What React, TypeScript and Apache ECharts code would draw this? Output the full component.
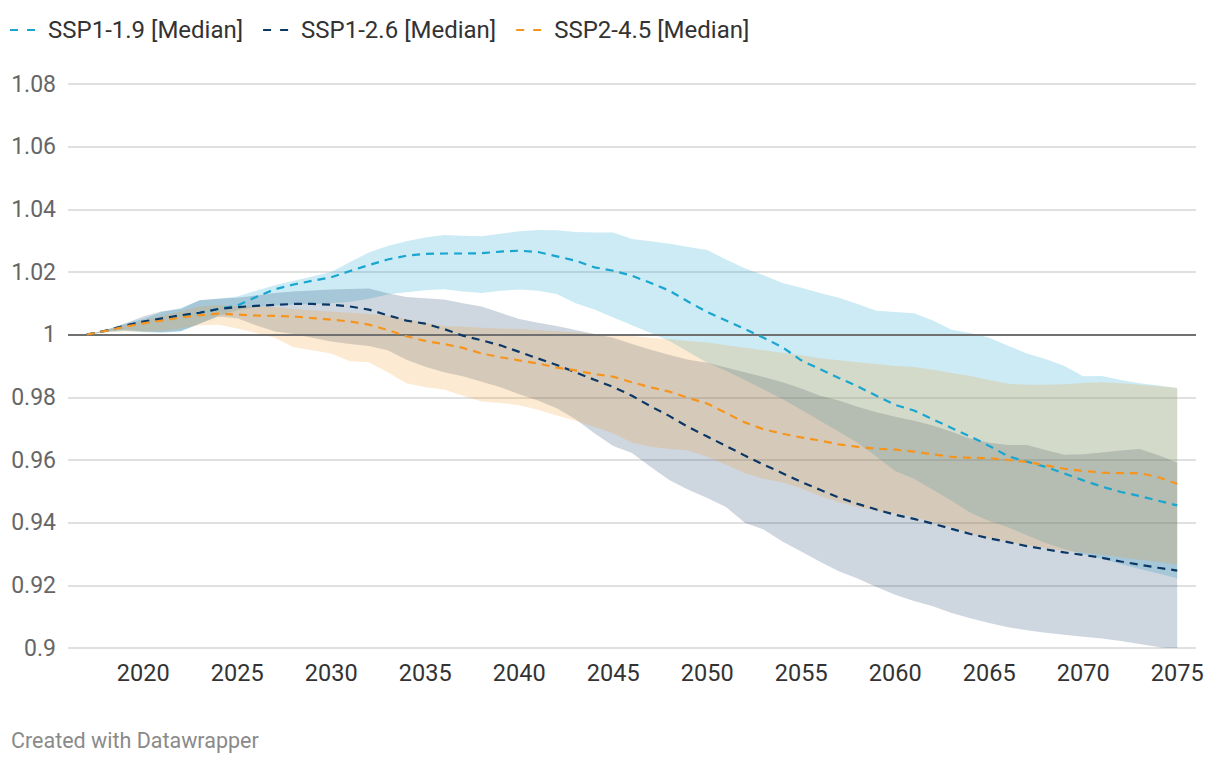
import React, { useEffect, useRef } from "react";
import * as echarts from "echarts";

const years = [
  2017, 2018, 2019, 2020, 2021, 2022, 2023, 2024, 2025, 2026,
  2027, 2028, 2029, 2030, 2031, 2032, 2033, 2034, 2035, 2036,
  2037, 2038, 2039, 2040, 2041, 2042, 2043, 2044, 2045, 2046,
  2047, 2048, 2049, 2050, 2051, 2052, 2053, 2054, 2055, 2056,
  2057, 2058, 2059, 2060, 2061, 2062, 2063, 2064, 2065, 2066,
  2067, 2068, 2069, 2070, 2071, 2072, 2073, 2074, 2075,
];

const xTickLabels = [2020, 2025, 2030, 2035, 2040, 2045, 2050, 2055, 2060, 2065, 2070, 2075];

// SSP1-1.9
const ssp119Median = [
  1.0, 1.0012, 1.0028, 1.004, 1.005, 1.006, 1.007, 1.0082, 1.0093, 1.012,
  1.0145, 1.016, 1.0172, 1.0183, 1.0203, 1.0222, 1.024, 1.0252, 1.0258, 1.0259,
  1.0259, 1.026, 1.0265, 1.0268, 1.0264, 1.025, 1.0236, 1.0215, 1.0204, 1.0188,
  1.0165, 1.014, 1.0105, 1.0072, 1.0045, 1.0018, 0.999, 0.996, 0.9918, 0.989,
  0.9862, 0.9835, 0.9805, 0.9776, 0.9758, 0.973, 0.9702, 0.9675, 0.9645, 0.9612,
  0.9595, 0.9578, 0.9557, 0.9535, 0.9515, 0.9498, 0.9485, 0.947, 0.9455,
];
const ssp119Upper = [
  1.0, 1.0015, 1.0035, 1.005, 1.0072, 1.0085, 1.011, 1.0115, 1.0122, 1.014,
  1.0158, 1.0172, 1.0186, 1.02, 1.0232, 1.0262, 1.0283, 1.0298, 1.031, 1.0318,
  1.0316, 1.0314, 1.0322, 1.033, 1.0334, 1.0333, 1.0328, 1.0326, 1.0326, 1.0305,
  1.0298, 1.029, 1.028, 1.027, 1.024, 1.0212, 1.019, 1.0165, 1.015, 1.0133,
  1.0118, 1.0098, 1.0076, 1.0072, 1.0068, 1.0045, 1.0016, 1.0005, 0.999, 0.9965,
  0.994, 0.9922, 0.99, 0.9867, 0.9868, 0.9855, 0.9845, 0.9838, 0.983,
];
const ssp119Lower = [
  1.0, 1.0008, 1.0012, 1.0008, 1.0006, 1.001, 1.0035, 1.006, 1.0078, 1.0088,
  1.0093, 1.0096, 1.0098, 1.01, 1.0105, 1.0115, 1.0128, 1.0135, 1.0142, 1.0145,
  1.0138, 1.0133, 1.014, 1.0144, 1.014, 1.013, 1.01, 1.008, 1.0055, 1.003,
  1.0005, 0.998, 0.9945, 0.991, 0.9885, 0.9855, 0.9825, 0.9795, 0.976, 0.9725,
  0.969, 0.9655, 0.961, 0.9565, 0.954, 0.9505, 0.947, 0.9432, 0.9405, 0.9385,
  0.936, 0.9335, 0.9315, 0.93, 0.9285, 0.9268, 0.9252, 0.9238, 0.9223,
];

// SSP1-2.6
const ssp126Median = [
  1.0, 1.0013, 1.0028, 1.0042, 1.0052, 1.0062, 1.007, 1.0082, 1.0088, 1.0092,
  1.0095, 1.0098, 1.0098, 1.0096, 1.009, 1.008, 1.0062, 1.0045, 1.0035, 1.0018,
  0.9997, 0.9982, 0.9966, 0.9945, 0.9924, 0.9903, 0.988, 0.9856, 0.9833, 0.9805,
  0.9771, 0.974, 0.9705, 0.9675, 0.9645, 0.9614, 0.9585, 0.9558, 0.953, 0.9505,
  0.948, 0.946, 0.9442, 0.9425, 0.9412, 0.9397, 0.938, 0.9364, 0.935, 0.9338,
  0.9325, 0.9315, 0.9305, 0.9297, 0.9288, 0.9276, 0.9266, 0.9256, 0.9247,
];
const ssp126Upper = [
  1.0, 1.0015, 1.0035, 1.0058, 1.0075, 1.0082, 1.011, 1.0115, 1.0118, 1.0125,
  1.0133, 1.0138, 1.0141, 1.0144, 1.0146, 1.0147, 1.0132, 1.012, 1.0116, 1.0112,
  1.01, 1.009, 1.007, 1.005, 1.0038, 1.0028, 1.0015, 1.0002, 0.999, 0.997,
  0.9952, 0.9935, 0.992, 0.991, 0.9895, 0.988, 0.9865, 0.9848, 0.9828, 0.9805,
  0.979, 0.977, 0.9752, 0.9738, 0.9725, 0.971, 0.969, 0.9668, 0.9655, 0.9648,
  0.9648, 0.9632, 0.9617, 0.9618, 0.9624, 0.963, 0.9635, 0.9615, 0.9592,
];
const ssp126Lower = [
  1.0, 1.001, 1.0015, 1.001, 1.0008, 1.0012, 1.0035, 1.0058, 1.0052, 1.003,
  1.001, 1.0002, 0.999, 0.9978, 0.997, 0.9964, 0.995, 0.992, 0.9898, 0.988,
  0.9867, 0.985, 0.9832, 0.981, 0.979, 0.9765, 0.973, 0.9685, 0.9645, 0.9622,
  0.9578, 0.9535, 0.9505, 0.9479, 0.945, 0.94, 0.9378, 0.934, 0.9308, 0.9275,
  0.9245, 0.9222, 0.9195, 0.917, 0.915, 0.9133, 0.9112, 0.9095, 0.908, 0.9066,
  0.9057, 0.9049, 0.9042, 0.9036, 0.903, 0.9022, 0.9013, 0.9003, 0.8995,
];

// SSP2-4.5
const ssp245Median = [
  1.0, 1.0012, 1.0025, 1.0036, 1.0045, 1.0055, 1.0062, 1.0067, 1.0064, 1.0061,
  1.006, 1.0058, 1.0053, 1.0048, 1.0042, 1.0032, 1.0015, 0.9995, 0.998, 0.997,
  0.9958, 0.994, 0.9928, 0.9918, 0.9908, 0.9895, 0.9886, 0.9874, 0.9866, 0.9848,
  0.9832, 0.9818, 0.9798, 0.978, 0.975, 0.972, 0.9698, 0.9684, 0.9672, 0.9662,
  0.965, 0.9642, 0.9636, 0.9633, 0.9627, 0.9618, 0.961, 0.9607, 0.9606, 0.96,
  0.9594, 0.9583, 0.9572, 0.9565, 0.956, 0.9558, 0.9558, 0.9545, 0.9524,
];
const ssp245Upper = [
  1.0, 1.0014, 1.003, 1.0045, 1.006, 1.0075, 1.009, 1.0095, 1.0092, 1.009,
  1.0088, 1.0082, 1.0078, 1.0074, 1.007, 1.0066, 1.006, 1.005, 1.0038, 1.0028,
  1.0025, 1.0022, 1.002, 1.0018, 1.0015, 1.0011, 1.0008, 1.0002, 1.0, 0.9996,
  0.999, 0.9985, 0.998, 0.9975, 0.9966, 0.9958, 0.995, 0.9942, 0.9934, 0.9925,
  0.9918, 0.9912, 0.9906, 0.99, 0.9897, 0.9888, 0.9878, 0.9868, 0.9855, 0.9843,
  0.984, 0.984, 0.9842, 0.9846, 0.9848, 0.9845, 0.984, 0.9835, 0.983,
];
const ssp245Lower = [
  1.0, 1.0008, 1.001, 1.001, 1.0012, 1.002, 1.003, 1.0032, 1.002, 1.0005,
  0.999, 0.996, 0.995, 0.994, 0.9915, 0.9912, 0.988, 0.9845, 0.9832, 0.9825,
  0.9805, 0.9787, 0.9782, 0.9775, 0.976, 0.9742, 0.9725, 0.9705, 0.9685, 0.9655,
  0.9642, 0.9635, 0.963, 0.961, 0.9585, 0.9558, 0.954, 0.9528, 0.951, 0.9485,
  0.9465, 0.945, 0.9438, 0.9428, 0.9418, 0.94, 0.9385, 0.9365, 0.935, 0.9338,
  0.9328, 0.9318, 0.931, 0.9305, 0.9298, 0.929, 0.9282, 0.9275, 0.9266,
];

const CYAN = "#18a6d0";
const NAVY = "#0b3766";
const ORANGE = "#f7941d";
const FONT = "Roboto, 'Noto Sans', sans-serif";

const pts = (vals: number[]) => years.map((y, i) => [y, vals[i]]);

function band(id: string, lo: number[], hi: number[], fill: string, z: number) {
  return {
    id,
    type: "custom",
    silent: true,
    clip: true,
    z,
    encode: { x: 0, y: [1, 2] },
    data: years.map((y, i) => [y, lo[i], hi[i]]),
    renderItem: (params: any, api: any) => {
      if (params.dataIndex !== 0) return null;
      const top = years.map((y, i) => api.coord([y, hi[i]]));
      const bottom = years.map((y, i) => api.coord([y, lo[i]])).reverse();
      return {
        type: "polygon",
        shape: { points: top.concat(bottom) },
        style: { fill },
      };
    },
  };
}

function median(name: string, vals: number[], color: string) {
  return {
    name,
    type: "line",
    data: pts(vals),
    symbol: "none",
    lineStyle: { color, width: 2.2, type: [8, 6] },
    itemStyle: { color },
    z: 5,
  };
}

const DASH_ICON = "path://M0,0H8V2H0Z M17,0H25V2H17Z";

export default function App() {
  const ref = useRef<HTMLDivElement>(null);
  useEffect(() => {
    if (!ref.current) return;
    const chart = echarts.init(ref.current, null, { renderer: "svg" });
    const option: any = {
      animation: false,
      backgroundColor: "#ffffff",
      textStyle: { fontFamily: FONT },
      legend: {
        left: 10,
        top: 18,
        padding: 0,
        icon: DASH_ICON,
        itemWidth: 25,
        itemHeight: 2.2,
        itemGap: 20,
        data: ["SSP1-1.9 [Median]", "SSP1-2.6 [Median]", "SSP2-4.5 [Median]"],
        textStyle: {
          fontSize: 24,
          color: "#333333",
          fontFamily: FONT,
          padding: [0, 0, 0, 8],
        },
      },
      grid: { left: 68, right: 24, top: 84, bottom: 118, containLabel: false },
      xAxis: {
        type: "value",
        min: 2016,
        max: 2076,
        axisLine: { show: false },
        axisTick: { show: false },
        splitLine: { show: false },
        axisLabel: {
          customValues: xTickLabels,
          fontSize: 23.5,
          color: "#333333",
          fontFamily: FONT,
          margin: 13,
          formatter: (v: number) => String(v),
        },
      },
      yAxis: {
        type: "value",
        min: 0.9,
        max: 1.08,
        interval: 0.02,
        axisLine: { show: false },
        axisTick: { show: false },
        splitLine: { lineStyle: { color: "#d6d6d6", width: 1.5 } },
        axisLabel: {
          fontSize: 23,
          color: "#666666",
          fontFamily: FONT,
          margin: 12,
          formatter: (v: number) => String(Math.round(v * 100) / 100),
        },
      },
      graphic: [
        {
          type: "text",
          left: 11,
          top: 729,
          style: {
            text: "Created with Datawrapper",
            fontSize: 21.5,
            fill: "#8a8a8a",
            fontFamily: FONT,
          },
        },
      ],
      series: [
        band("b119", ssp119Lower, ssp119Upper, "rgba(24,166,208,0.22)", 1),
        band("b126", ssp126Lower, ssp126Upper, "rgba(11,55,102,0.2)", 1),
        band("b245", ssp245Lower, ssp245Upper, "rgba(247,148,29,0.2)", 1),
        {
          id: "zero",
          type: "line",
          data: [],
          symbol: "none",
          silent: true,
          z: 3,
          markLine: {
            silent: true,
            symbol: ["none", "none"],
            label: { show: false },
            lineStyle: { color: "#707070", width: 2, type: "solid" },
            data: [{ yAxis: 1 }],
          },
        },
        median("SSP1-1.9 [Median]", ssp119Median, CYAN),
        median("SSP1-2.6 [Median]", ssp126Median, NAVY),
        median("SSP2-4.5 [Median]", ssp245Median, ORANGE),
      ],
    };
    chart.setOption(option);
    return () => chart.dispose();
  }, []);
  return <div ref={ref} style={{ width: 1220, height: 766, position: "absolute", left: 0, top: 0 }} />;
}
